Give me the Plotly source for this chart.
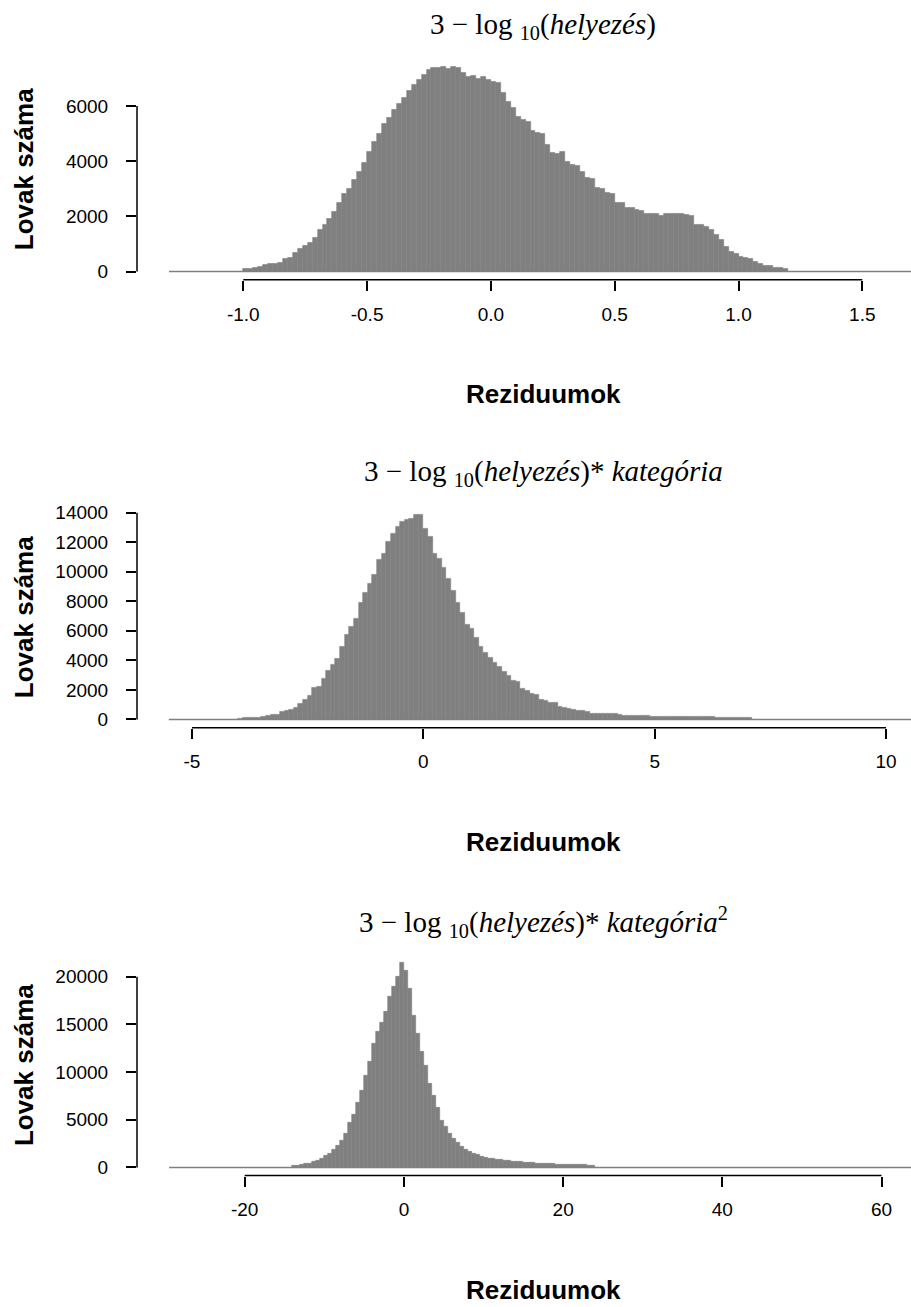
import plotly.graph_objects as go

FIG_W, FIG_H = 911, 1307
BAR_COLOR = "#808080"

# ---------------- data ----------------
xlabel_text = "Reziduumok"
ylabel_text = "Lovak száma"

p1_title = "3 − log <sub>10</sub>(<i>helyezés</i>)"
p1_start, p1_width = -1.00, 0.02
p1_breaks = [-1.30, 1.72]
p1_counts = [
    90, 110, 150, 190, 260, 270, 280, 330, 460, 500,
    690, 820, 930, 1050, 1210, 1510, 1710, 1930, 2170, 2510,
    2810, 3020, 3320, 3620, 3960, 4350, 4710, 5010, 5370, 5580,
    5880, 6100, 6310, 6550, 6760, 6950, 7150, 7300, 7400, 7380,
    7420, 7350, 7420, 7380, 7200, 7050, 7100, 7000, 7050, 6950,
    6900, 6850, 6500, 6150, 5950, 5610, 5490, 5450, 5100, 5050,
    5010, 4590, 4300, 4260, 4350, 3980, 3880, 3840, 3620, 3400,
    3360, 3040, 3000, 2850, 2830, 2510, 2490, 2330, 2310, 2240,
    2220, 2100, 2090, 2080, 2030, 2090, 2100, 2090, 2080, 2070,
    2015, 1700, 1680, 1630, 1510, 1330, 1150, 905, 720, 640,
    520, 490, 470, 360, 265, 210, 200, 130, 120, 110,
]
p1_xticks = [-1.0, -0.5, 0.0, 0.5, 1.0, 1.5]
p1_xticklabels = ["-1.0", "-0.5", "0.0", "0.5", "1.0", "1.5"]
p1_yticks = [0, 2000, 4000, 6000]

p2_title = "3 − log <sub>10</sub>(<i>helyezés</i>)* <i>kategória</i>"
p2_start, p2_width = -4.0, 0.1
p2_breaks = [-5.5, 10.6]
p2_counts = [
    60, 100, 110, 130, 150, 170, 250, 300, 340, 560,
    620, 650, 800, 1070, 1360, 1585, 2140, 2190, 2750, 3300,
    3700, 4090, 4935, 5720, 6250, 6810, 7880, 8550, 9220, 9780,
    10830, 11230, 12010, 12570, 13060, 13400, 13530, 13580, 13850, 13850,
    12900, 12350, 11230, 10900, 10270, 9510, 8710, 7880, 7210, 6430,
    6160, 5540, 4935, 4490, 4200, 3860, 3600, 3250, 2950, 2620,
    2560, 2070, 1920, 1720, 1680, 1320, 1280, 1150, 1120, 870,
    830, 700, 680, 590, 580, 560, 420, 410, 400, 390,
    390, 380, 300, 290, 290, 280, 280, 270, 270, 190,
    190, 180, 180, 180, 180, 170, 170, 170, 170, 160,
    160, 160, 160, 150, 150, 150, 150, 140, 140, 140,
    140,
]
p2_xticks = [-5, 0, 5, 10]
p2_xticklabels = ["-5", "0", "5", "10"]
p2_yticks = [0, 2000, 4000, 6000, 8000, 10000, 12000, 14000]

p3_title = "3 − log <sub>10</sub>(<i>helyezés</i>)* <i>kategória</i><sup>2</sup>"
p3_start, p3_width = -14.0, 0.5
p3_breaks = [-29.5, 64.0]
p3_counts = [
    150, 200, 300, 380, 450, 600, 750, 950, 1200, 1500,
    1850, 2250, 2800, 3500, 4740, 5530, 6840, 8060, 9640, 11050,
    12980, 14210, 15160, 16380, 17890, 18950, 20000, 21470, 20700, 18770,
    15960, 14030, 12100, 10700, 8770, 7540, 6230, 4900, 4240, 3500,
    3000, 2550, 2200, 1900, 1650, 1450, 1300, 1150, 1050, 950,
    900, 850, 800, 750, 700, 650, 620, 580, 550, 520,
    480, 450, 420, 400, 380, 360, 340, 320, 300, 290,
    280, 270, 260, 250, 240, 230,
]
p3_xticks = [-20, 0, 20, 40, 60]
p3_xticklabels = ["-20", "0", "20", "40", "60"]
p3_yticks = [0, 5000, 10000, 15000, 20000]

# ---------------- layout geometry (pixels) ----------------
X_LEFT_PX = 137
panel_px = [(55, 277), (505, 727), (955, 1177)]
x_ranges = [[-1.4293, 1.6967], [-6.188, 10.54], [-33.53, 63.70]]
title_y_px = [22, 471, 922]
xlab_y_px = [392, 842, 1292]
CENTER_X_PX = 543
YLAB_X_PX = 24

TICK_FONT = dict(family="Liberation Sans, Arial, sans-serif", size=19, color="black")
LAB_FONT = dict(family="Liberation Sans, Arial, sans-serif", size=26, color="black", weight="bold")
TITLE_FONT = dict(family="Liberation Serif, Times New Roman, serif", size=29, color="black")

panels = [
    (p1_title, p1_start, p1_width, p1_breaks, p1_counts, p1_xticks, p1_xticklabels, p1_yticks),
    (p2_title, p2_start, p2_width, p2_breaks, p2_counts, p2_xticks, p2_xticklabels, p2_yticks),
    (p3_title, p3_start, p3_width, p3_breaks, p3_counts, p3_xticks, p3_xticklabels, p3_yticks),
]


def py(px):
    return 1 - px / FIG_H


fig = go.Figure()
layout = dict(
    width=FIG_W, height=FIG_H, autosize=False,
    margin=dict(l=0, r=0, t=0, b=0, pad=0),
    paper_bgcolor="white", plot_bgcolor="white",
    showlegend=False, bargap=0,
)
shapes = []
annotations = []

for k, (title, start, width, breaks, counts, xt, xtl, yt) in enumerate(panels):
    xa = "x" if k == 0 else f"x{k + 1}"
    ya = "y" if k == 0 else f"y{k + 1}"
    centers = [start + width * (i + 0.5) for i in range(len(counts))]
    fig.add_trace(go.Scatter(
        x=breaks, y=[0, 0], mode="lines",
        line=dict(color=BAR_COLOR, width=1.5),
        xaxis=xa, yaxis=ya, hoverinfo="skip",
    ))
    fig.add_trace(go.Bar(
        x=centers, y=counts, width=width,
        marker=dict(color=BAR_COLOR, line=dict(color=BAR_COLOR, width=0.6)),
        xaxis=xa, yaxis=ya,
    ))
    M = max(counts)
    top_px, bot_px = panel_px[k]
    layout["xaxis" if k == 0 else f"xaxis{k + 1}"] = dict(
        domain=[X_LEFT_PX / FIG_W, 1.0], range=x_ranges[k], anchor=ya,
        tickmode="array", tickvals=xt, ticktext=xtl,
        ticks="outside", ticklen=10, tickwidth=1.5, tickcolor="black",
        showline=False, showgrid=False, zeroline=False,
        tickfont=TICK_FONT, ticklabelstandoff=7,
    )
    layout["yaxis" if k == 0 else f"yaxis{k + 1}"] = dict(
        domain=[py(bot_px), py(top_px)], range=[-0.04 * M, 1.04 * M], anchor=xa,
        tickmode="array", tickvals=yt, ticktext=[str(v) for v in yt],
        ticks="outside", ticklen=10, tickwidth=1.5, tickcolor="black",
        showline=False, showgrid=False, zeroline=False,
        tickfont=TICK_FONT, ticklabelstandoff=14,
    )
    # axis lines spanning first to last tick (R style)
    shapes.append(dict(type="line", xref=xa, yref=f"{ya} domain",
                       x0=xt[0], x1=xt[-1], y0=0, y1=0,
                       line=dict(color="black", width=1.5)))
    shapes.append(dict(type="line", xref=f"{xa} domain", yref=ya,
                       x0=0, x1=0, y0=yt[0], y1=yt[-1],
                       line=dict(color="black", width=1.5)))
    annotations.append(dict(text=title, xref="paper", yref="paper",
                            x=CENTER_X_PX / FIG_W, y=py(title_y_px[k]),
                            xanchor="center", yanchor="middle", showarrow=False,
                            font=TITLE_FONT))
    annotations.append(dict(text=xlabel_text, xref="paper", yref="paper",
                            x=CENTER_X_PX / FIG_W, y=py(xlab_y_px[k]),
                            xanchor="center", yanchor="middle", showarrow=False,
                            font=LAB_FONT))
    annotations.append(dict(text=ylabel_text, xref="paper", yref="paper",
                            x=YLAB_X_PX / FIG_W, y=py((top_px + bot_px) / 2),
                            xanchor="center", yanchor="middle", showarrow=False,
                            textangle=-90, font=LAB_FONT))

layout["shapes"] = shapes
layout["annotations"] = annotations
fig.update_layout(**layout)
fig.write_html("out.html")
